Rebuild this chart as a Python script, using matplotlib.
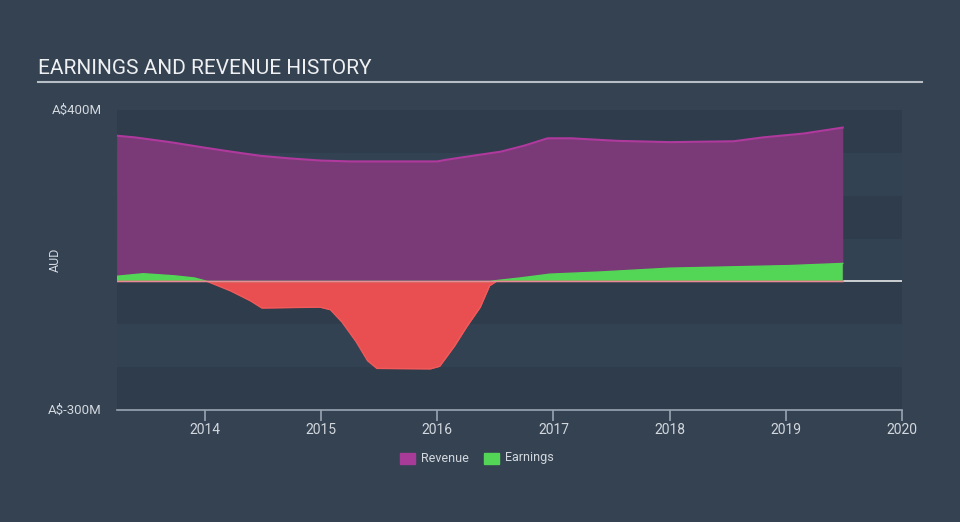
import matplotlib.pyplot as plt
import numpy as np
from matplotlib.patches import Rectangle
from matplotlib.lines import Line2D

plt.rcParams["font.family"] = ["Roboto", "DejaVu Sans"]

# data (A$ millions), x in decimal years
rev_t = [2013.24, 2013.40, 2013.70, 2014.00, 2014.22, 2014.48, 2014.73, 2015.00, 2015.25,
         2016.00, 2016.08, 2016.30, 2016.55, 2016.75, 2016.95, 2017.15, 2017.55, 2018.00,
         2018.55, 2018.80, 2019.15, 2019.49]
revenue = [340, 336, 325, 312, 303, 293, 287, 282, 280,
           280, 284, 293, 303, 317, 334, 334, 328, 325,
           327, 336, 345, 359]

earn_t = [2013.24, 2013.47, 2013.74, 2013.91, 2014.02, 2014.22, 2014.39, 2014.49, 2014.73,
          2014.99, 2015.08, 2015.18, 2015.30, 2015.40, 2015.48, 2015.94, 2016.02, 2016.15,
          2016.25, 2016.37, 2016.45, 2016.51, 2016.71, 2016.97, 2017.40, 2018.00, 2018.52,
          2019.03, 2019.49]
earnings = [12, 18, 13, 8, 0, -22, -45, -62, -61,
            -60, -66, -95, -140, -185, -203, -204, -198, -150,
            -107, -60, -10, 2, 8, 17, 22, 31, 34,
            37, 42]

years = [2014, 2015, 2016, 2017, 2018, 2019, 2020]
ylabels = ["A$400M", "A$-300M"]

bg = "#344252"
dark_band = "#2e3c4c"
light_band = "#334253"
txt = "#d3d8de"

fig = plt.figure(figsize=(9.6, 5.22), dpi=100)
fig.patch.set_facecolor(bg)
ax = fig.add_axes([117 / 960, 1 - 410 / 522, 785 / 960, 300 / 522])
ax.set_facecolor(bg)

x0, x1 = 2013.243, 2020.0
ax.set_xlim(x0, x1)
ax.set_ylim(-300, 400)

# horizontal bands
for i, lo in enumerate(range(-300, 400, 100)):
    ax.axhspan(lo, lo + 100, color=dark_band if i % 2 == 0 else light_band, lw=0, zorder=0)

ax.axhline(0, color="#e8e8e8", lw=1.2, zorder=1)

rt = np.array(rev_t)
rv = np.array(revenue)
et = np.array(earn_t)
ev = np.array(earnings)

ax.fill_between(rt, 0, rv, color="#7a3a77", lw=0, zorder=2)
ax.plot(rt, rv, color="#b0399d", lw=1.5, zorder=3)

ax.fill_between(et, 0, ev, where=ev >= 0, interpolate=True, color="#53d656", lw=0, zorder=3)
ax.fill_between(et, 0, ev, where=ev <= 0, interpolate=True, color="#e94f51", lw=0, zorder=3)
ax.plot(et, np.clip(ev, 0, None), color="#53d656", lw=1, zorder=4)
ax.plot(et, np.clip(ev, None, 0), color="#f05a5a", lw=1, zorder=4)
ax.axhline(0, xmin=0, xmax=(et[-1] - x0) / (x1 - x0), color="#e88a9a", lw=1, zorder=5)

for s in ["top", "right", "left"]:
    ax.spines[s].set_visible(False)
ax.spines["bottom"].set_color("#9aa5b1")
ax.spines["bottom"].set_linewidth(1.2)
ax.set_xticks(years)
ax.set_xticklabels([str(y) for y in years])
ax.tick_params(axis="x", colors="#9aa5b1", length=8, width=1.2, labelcolor=txt, labelsize=10, pad=1)
ax.set_yticks([])

# y labels
fig.text(102 / 960, 1 - 110 / 522, ylabels[0], color=txt, fontsize=9.5, ha="right", va="center")
fig.text(102 / 960, 1 - 410 / 522, ylabels[1], color=txt, fontsize=9.5, ha="right", va="center")
fig.text(55 / 960, 1 - 260 / 522, "AUD", color=txt, fontsize=9, rotation=90, ha="center", va="center")

# title
fig.text(38 / 960, 1 - 68 / 522, "EARNINGS AND REVENUE HISTORY", color="#eef0f2", fontsize=15,
         ha="left", va="center")
fig.add_artist(Line2D([38 / 960, 922 / 960], [1 - 82 / 522, 1 - 82 / 522], color="#b8bec6", lw=1.5))

# legend
ly = 1 - 458 / 522
fig.add_artist(Rectangle((400 / 960, ly - 5.5 / 522), 15 / 960, 11 / 522, color="#a83b97"))
fig.text(421 / 960, ly, "Revenue", color=txt, fontsize=9, ha="left", va="center")
fig.add_artist(Rectangle((484 / 960, ly - 5.5 / 522), 15 / 960, 11 / 522, color="#53d656"))
fig.text(505 / 960, ly, "Earnings", color=txt, fontsize=9, ha="left", va="center")

fig.savefig("out.png", dpi=100, facecolor=bg)
